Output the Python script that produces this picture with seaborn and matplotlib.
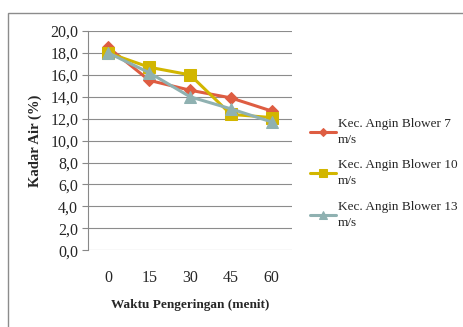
import matplotlib
matplotlib.use("Agg")
import matplotlib.pyplot as plt
import seaborn as sns
import pandas as pd
from matplotlib.patches import Rectangle

waktu = ["0", "15", "30", "45", "60"]
series_names = ["Kec. Angin Blower 7\nm/s", "Kec. Angin Blower 10\nm/s", "Kec. Angin Blower 13\nm/s"]
v7 = [18.5, 15.5, 14.6, 13.9, 12.7]
v10 = [18.0, 16.7, 16.0, 12.4, 12.1]
v13 = [18.0, 16.2, 14.0, 12.9, 11.7]
yticks = [0, 2, 4, 6, 8, 10, 12, 14, 16, 18, 20]

colors = ["#DE5D42", "#D2B600", "#8FB1B1"]
markers = ["D", "s", "^"]
msizes = [6, 8, 8]

sns.set_style("white")
plt.rcParams['font.family'] = ['Liberation Serif', 'DejaVu Serif']

df = pd.DataFrame({
    "Waktu": waktu * 3,
    "Kadar": v7 + v10 + v13,
    "Seri": [series_names[0]] * 5 + [series_names[1]] * 5 + [series_names[2]] * 5,
})

fig = plt.figure(figsize=(4.63, 3.27), dpi=100)
ax = fig.add_axes([0.190, 0.235, 0.441, 0.670])

for i, name in enumerate(series_names):
    sub = df[df["Seri"] == name]
    sns.lineplot(data=sub, x="Waktu", y="Kadar", ax=ax, color=colors[i],
                 marker=markers[i], markersize=msizes[i], markeredgecolor=colors[i],
                 linewidth=2.2, label=name, sort=False)

ax.set_xlim(-0.5, 4.5)
ax.set_ylim(0, 20)
ax.set_yticks(yticks)
ax.set_yticklabels([f"{v:.1f}".replace(".", ",") for v in yticks], fontsize=11.5)
ax.set_xticks(range(len(waktu)))
ax.set_xticklabels(waktu, fontsize=11.5)
ax.tick_params(axis="x", length=0, pad=14)
ax.tick_params(axis="y", length=4, width=0.8, color="#888888", pad=3, left=True)
ax.yaxis.grid(True, color="#8c8c8c", linewidth=0.8)
ax.xaxis.grid(False)
for s in ["top", "right", "bottom"]:
    ax.spines[s].set_visible(False)
ax.spines["left"].set_color("#888888")
ax.spines["left"].set_linewidth(0.8)
ax.set_axisbelow(True)

ax.set_xlabel("Waktu Pengeringan (menit)", fontsize=9.5, fontweight="bold", labelpad=10)
ax.set_ylabel("Kadar Air (%)", fontsize=10.5, fontweight="bold", labelpad=6)

leg = ax.legend(loc="center left", bbox_to_anchor=(1.06, 0.35), frameon=False,
                fontsize=9.5, handlelength=2.0, handletextpad=0.15,
                labelspacing=1.0, borderaxespad=0, markerscale=0.75)
for t in leg.get_texts():
    t.set_linespacing(1.45)

fig.patches.append(Rectangle((8 / 463, -0.1), 1.2, 1 - 13 / 327 + 0.1,
                             transform=fig.transFigure, fill=False,
                             edgecolor="#8c8c8c", linewidth=1.0))

fig.savefig("out.png", dpi=100)
